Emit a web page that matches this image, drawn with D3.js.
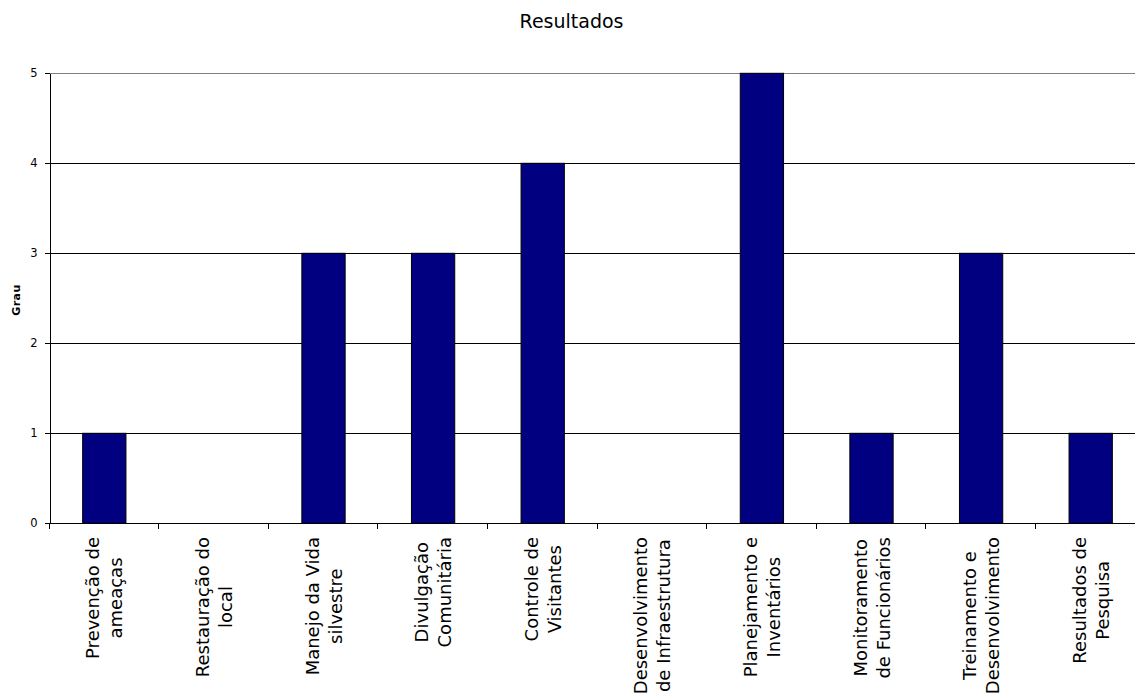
<!DOCTYPE html>
<html>
<head>
<meta charset="utf-8">
<script src="https://cdn.jsdelivr.net/npm/d3@7"></script>
<style>
  html, body { margin: 0; padding: 0; background: #fff; }
  svg { display: block; }
</style>
</head>
<body>
<svg id="chart" width="1135" height="696"></svg>
<script>
const categories = [
  ["Prevenção de", "ameaças"],
  ["Restauração do", "local"],
  ["Manejo da Vida", "silvestre"],
  ["Divulgação", "Comunitária"],
  ["Controle de", "Visitantes"],
  ["Desenvolvimento", "de Infraestrutura"],
  ["Planejamento e", "Inventários"],
  ["Monitoramento", "de Funcionários"],
  ["Treinamento e", "Desenvolvimento"],
  ["Resultados de", "Pesquisa"]
];
const values = [1, 0, 3, 3, 4, 0, 5, 1, 3, 1];
const yTicks = [0, 1, 2, 3, 4, 5];
const title = "Resultados";
const yTitle = "Grau";

(function () {
const svg = d3.select("#chart");
const W = 1135, H = 696;
const pLeft = 49.5, pRight = 49.5 + 10 * 109.6;
const pTop = 73.3, pBottom = 523.3;

const x = d3.scaleBand().domain(d3.range(categories.length)).range([pLeft, pRight]).padding(0);
const y = d3.scaleLinear().domain([0, 5]).range([pBottom, pTop]);

const font = "'DejaVu Sans', Verdana, sans-serif";

// Title
svg.append("text")
  .attr("x", 571.5).attr("y", 27.5)
  .attr("text-anchor", "middle")
  .style("font-family", font).style("font-size", "19px").attr("fill", "#000")
  .text(title);

// Gridlines
svg.append("g").selectAll("line").data(yTicks.filter(d => d > 0)).join("line")
  .attr("x1", pLeft).attr("x2", W)
  .attr("y1", d => Math.round(y(d)) + 0.5).attr("y2", d => Math.round(y(d)) + 0.5)
  .attr("stroke", d => d === 5 ? "#808080" : "#000").attr("stroke-width", 1)
  .attr("shape-rendering", "crispEdges");

// Bars
const bw = x.bandwidth() * 0.395;
svg.append("g").selectAll("rect").data(values).join("rect")
  .attr("x", (d, i) => x(i) + (x.bandwidth() - bw) / 2)
  .attr("y", d => y(d))
  .attr("width", bw)
  .attr("height", d => y(0) - y(d))
  .attr("fill", "#000080")
  .attr("stroke", "#000").attr("stroke-width", 1)
  .style("display", d => d > 0 ? null : "none");

// Y axis
const yAxis = svg.append("g").attr("transform", `translate(${Math.round(pLeft) - 0.5},0)`)
  .call(d3.axisLeft(y).tickValues(yTicks).tickSize(5).tickSizeOuter(0).tickFormat(d3.format("d")));
yAxis.select(".domain").attr("stroke", "#000").attr("shape-rendering", "crispEdges");
yAxis.selectAll(".tick line").attr("stroke", "#000").attr("shape-rendering", "crispEdges");
yAxis.selectAll(".tick text")
  .attr("x", -12)
  .style("font-family", font).style("font-size", "11.5px").attr("fill", "#000");

// X axis
const xAxisG = svg.append("g").attr("transform", `translate(0,${Math.round(pBottom) + 0.5})`);
xAxisG.append("line").attr("x1", pLeft - 0.5).attr("x2", W).attr("y1", 0).attr("y2", 0)
  .attr("stroke", "#000").attr("shape-rendering", "crispEdges");
xAxisG.selectAll("line.tick").data(d3.range(categories.length + 1)).join("line")
  .attr("class", "tick")
  .attr("x1", i => Math.round(pLeft + i * x.step()) - 0.5)
  .attr("x2", i => Math.round(pLeft + i * x.step()) - 0.5)
  .attr("y1", 0).attr("y2", 5)
  .attr("stroke", "#000").attr("shape-rendering", "crispEdges");

// Category labels (rotated, two lines)
const labelFs = 18;
categories.forEach((lines, i) => {
  const cx = x(i) + x.bandwidth() / 2;
  const g = svg.append("g");
  const texts = lines.map((ln, j) => g.append("text")
    .attr("text-anchor", "middle")
    .style("font-family", font).style("font-size", labelFs + "px").attr("fill", "#000")
    .text(ln));
  const maxLen = d3.max(texts, t => t.node().getComputedTextLength());
  const cy = 537 + maxLen / 2;
  g.attr("transform", `translate(${cx},${cy}) rotate(-90)`);
  texts.forEach((t, j) => t.attr("x", 0).attr("y", j === 0 ? -5 : 18));
});

// Y title
svg.append("text")
  .attr("transform", "translate(20,300) rotate(-90)")
  .attr("text-anchor", "middle")
  .style("font-family", font).style("font-size", "11px").style("font-weight", "bold")
  .style("letter-spacing", "0.5px")
  .attr("fill", "#000")
  .text(yTitle);
})();
</script>
</body>
</html>
